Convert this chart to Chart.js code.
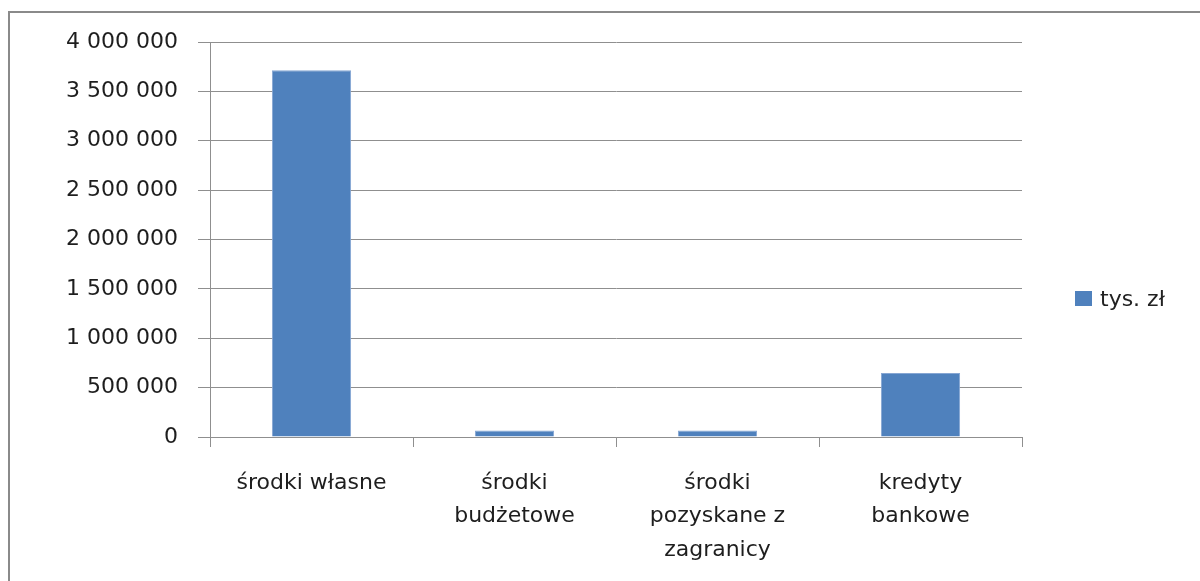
<!DOCTYPE html>
<html lang="pl">
<head>
<meta charset="utf-8">
<title>Źródła finansowania</title>
<script src="https://cdn.jsdelivr.net/npm/chart.js@4/dist/chart.umd.min.js"></script>
<style>
    html, body { margin: 0; padding: 0; background: #fff; overflow: hidden; }
    #wrap { position: relative; width: 1200px; height: 581px; }
    #frame {
        position: absolute; left: 8px; top: 11px; width: 1300px; height: 700px;
        border-top: 2px solid #8a8a8a; border-left: 2px solid #8a8a8a;
        pointer-events: none;
    }
    #legend {
        position: absolute; left: 1075px; top: 286px;
        font: 22px "DejaVu Sans", sans-serif; color: #222;
        list-style: none; margin: 0; padding: 0;
    }
    #legend li { display: flex; align-items: center; }
    #legend span.box { display: inline-block; width: 17px; height: 15px; margin-right: 8px; }
</style>
</head>
<body>
<div id="wrap">
    <canvas id="chart" width="1200" height="581"></canvas>
    <div id="frame"></div>
    <ul id="legend"></ul>
</div>
<script>
// --- DATA ---
const categories = [
    'środki własne',
    ['środki', 'budżetowe'],
    ['środki', 'pozyskane z', 'zagranicy'],
    ['kredyty', 'bankowe']
];
const seriesName = 'tys. zł';
const values = [3713000, 65000, 65000, 648000];
const yTicks = [0, 500000, 1000000, 1500000, 2000000, 2500000, 3000000, 3500000, 4000000];

const barColor = '#4f81bd';
const gridColor = '#8f8f8f';
const textColor = '#1e1e1e';

const formatNumber = (v) => String(v).replace(/\B(?=(\d{3})+(?!\d))/g, ' ');

// --- CHART ---
const ctx = document.getElementById('chart').getContext('2d');
const chart = new Chart(ctx, {
    type: 'bar',
    data: {
        labels: categories,
        datasets: [{
            label: seriesName,
            data: values,
            backgroundColor: barColor,
            borderColor: '#86a6d3',
            borderWidth: 1,
            categoryPercentage: 1,
            barPercentage: 0.39
        }]
    },
    options: {
        responsive: false,
        animation: false,
        layout: { padding: { top: 42, right: 178, left: 0, bottom: 0 } },
        plugins: {
            legend: { display: false },
            tooltip: { enabled: false }
        },
        scales: {
            x: {
                afterFit: (scale) => { scale.height = 144; },
                grid: {
                    drawOnChartArea: false,
                    drawTicks: true,
                    tickLength: 10,
                    color: gridColor
                },
                border: { color: gridColor, width: 1 },
                ticks: {
                    color: textColor,
                    padding: 19,
                    maxRotation: 0,
                    autoSkip: false,
                    font: { family: '"DejaVu Sans", sans-serif', size: 22, lineHeight: 1.53 }
                }
            },
            y: {
                min: 0,
                max: 4000000,
                afterFit: (scale) => { scale.width = 210; },
                afterBuildTicks: (scale) => { scale.ticks = yTicks.map(v => ({ value: v })); },
                grid: {
                    color: gridColor,
                    tickLength: 12
                },
                border: { color: gridColor, width: 1 },
                ticks: {
                    color: textColor,
                    padding: 20,
                    font: { family: '"DejaVu Sans", sans-serif', size: 22 },
                    callback: (v) => formatNumber(v)
                }
            }
        }
    }
});

// --- LEGEND ---
const legendEl = document.getElementById('legend');
chart.data.datasets.forEach(ds => {
    const li = document.createElement('li');
    const box = document.createElement('span');
    box.className = 'box';
    box.style.background = ds.backgroundColor;
    li.appendChild(box);
    li.appendChild(document.createTextNode(ds.label));
    legendEl.appendChild(li);
});
</script>
</body>
</html>
